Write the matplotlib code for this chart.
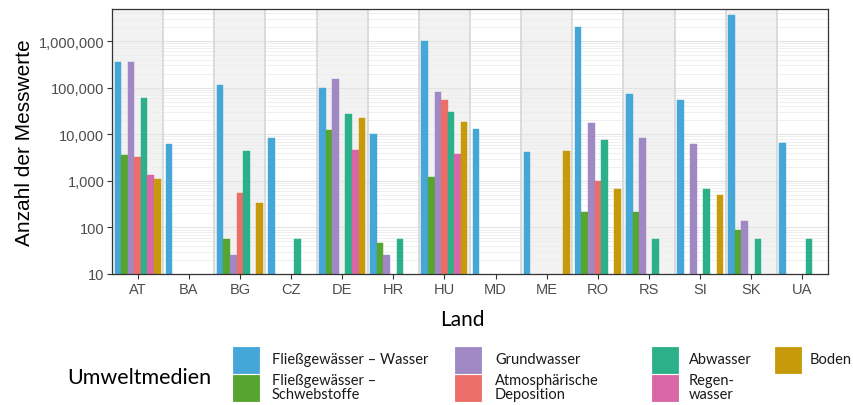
import numpy as np
import matplotlib.pyplot as plt
from matplotlib.patches import Rectangle
from matplotlib.ticker import FixedLocator, FuncFormatter, NullFormatter

# Anzahl der Messwerte je Land und Umweltmedium (NaN = keine Daten)
laender = ["AT", "BA", "BG", "CZ", "DE", "HR", "HU", "MD", "ME", "RO", "RS", "SI", "SK", "UA"]
medien = ["Fließgewässer – Wasser", "Fließgewässer –\nSchwebstoffe", "Grundwasser",
          "Atmosphärische\nDeposition", "Abwasser", "Regen-\nwasser", "Boden"]
farben = ["#45A7D7", "#55A52F", "#9F88C4", "#EC6E69", "#2CB089", "#D966A7", "#C69A0A"]

nan = np.nan
fg_wasser = [359000, 6180, 115000, 8450, 99000, 10300, 1016000, 12800, 4080, 2030000, 74800, 53700, 3630000, 6490]
fg_schweb = [3640, nan, 57, nan, 12400, 46, 1200, nan, nan, 219, 219, nan, 86, nan]
grundwasser = [348000, nan, 26, nan, 157000, 26, 82600, nan, nan, 17800, 8170, 6070, 136, nan]
atmos_dep = [3190, nan, 536, nan, nan, nan, 53700, nan, nan, 1000, nan, nan, nan, nan]
abwasser = [59300, nan, 4440, 57, 26900, 57, 30100, nan, nan, 7530, 57, 664, 57, 57]
regenwasser = [1350, nan, nan, nan, 4670, nan, 3700, nan, nan, nan, nan, nan, nan, nan]
boden = [1110, nan, 337, nan, 22700, nan, 18700, nan, 4440, 664, nan, 501, nan, nan]

serien = [fg_wasser, fg_schweb, grundwasser, atmos_dep, abwasser, regenwasser, boden]

W, H = 854, 406
fig = plt.figure(figsize=(W/100, H/100), dpi=100)
ax = fig.add_axes([112/W, 1-275/H, 716/W, 265/H])

x = np.arange(len(laender))
ymin, ymax = 10, 4.9e6

# abwechselnde Hintergrundstreifen
for i in range(0, len(laender), 2):
    ax.axvspan(i-0.5, i+0.5, color="#F2F2F2", zorder=0, lw=0)

# Gitterlinien
for e in range(1, 7):
    ax.axhline(10**e, color="#E3E3E3", lw=0.8, zorder=0.5)
    for m in range(2, 10):
        if m*10**e < ymax:
            ax.axhline(m*10**e, color="#EDEDED", lw=0.6, zorder=0.5)
for i in range(len(laender)-1):
    ax.axvline(i+0.5, color="#D6D6D6", lw=1.2, zorder=0.6)

w = 0.9/7
for j, (werte, farbe) in enumerate(zip(serien, farben)):
    werte = np.array(werte, dtype=float)
    ok = ~np.isnan(werte)
    ax.bar(x[ok] + (j-3)*w, werte[ok] - ymin, width=w, bottom=ymin, color=farbe,
           edgecolor=farbe, lw=0.3, zorder=2)

ax.set_yscale("log")
ax.set_ylim(ymin, ymax)
ax.set_xlim(-0.5, len(laender)-0.5)
ax.yaxis.set_major_locator(FixedLocator([10, 100, 1000, 10000, 100000, 1000000]))
ax.yaxis.set_major_formatter(FuncFormatter(lambda v, p: f"{int(round(v)):,}"))
ax.yaxis.set_minor_formatter(NullFormatter())
ax.tick_params(axis="y", which="minor", length=0)
ax.set_xticks(x)
ax.set_xticklabels(laender)
ax.tick_params(axis="both", which="major", length=3.5, width=0.8, color="#333333",
               labelcolor="#4D4D4D", labelsize=10.5, pad=2)
for lab in ax.get_xticklabels() + ax.get_yticklabels():
    lab.set_family("Liberation Sans")
for s in ax.spines.values():
    s.set_color("#333333")
    s.set_linewidth(0.9)

ax.set_ylabel("Anzahl der Messwerte", fontsize=15, family="Liberation Sans")
ax.yaxis.set_label_coords(-78/716, 0.5)
ax.set_xlabel("Land", fontsize=15, family="Lato")
ax.xaxis.set_label_coords((462-112)/716, -35/265)

# Legende von Hand, spaltenweise
fig.text(67/W, 1-378/H, "Umweltmedien", fontsize=15.5, family="Lato", va="center")
key_x = [233, 233, 455, 455, 652, 652, 775]
key_y = [348, 376, 348, 376, 348, 376, 348]
text_dx = [39, 39, 40, 40, 37, 37, 35]
for k, (name, farbe) in enumerate(zip(medien, farben)):
    kx, ky = key_x[k], key_y[k]
    fig.patches.append(Rectangle((kx/W, 1-(ky+26)/H), 26/W, 26/H, transform=fig.transFigure,
                                 facecolor=farbe, edgecolor=farbe, lw=0.6))
    fig.text((kx+text_dx[k])/W, 1-(ky+12)/H, name, fontsize=10.5, family="Lato", va="center",
             linespacing=0.95, color="#1A1A1A")

fig.savefig("out.png", dpi=100)
